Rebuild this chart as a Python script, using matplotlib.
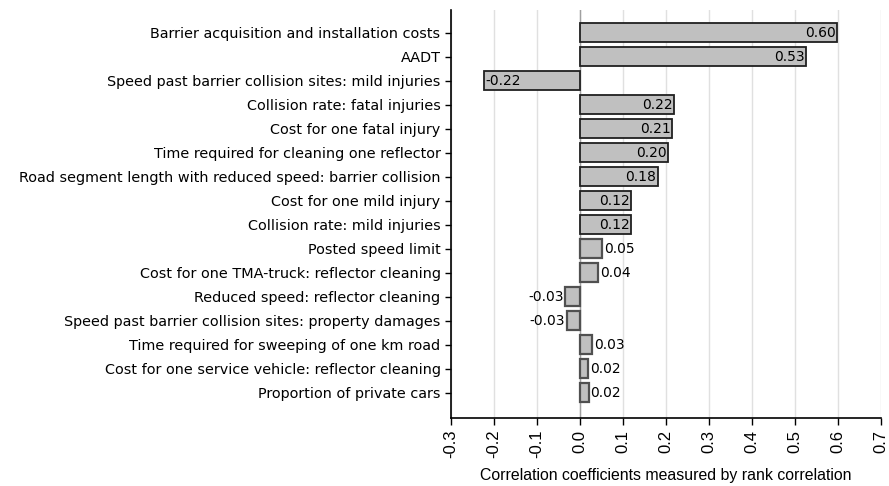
import matplotlib
matplotlib.use("Agg")
import matplotlib.pyplot as plt
import numpy as np

# parameters and their rank correlation coefficients
params = [
    "Barrier acquisition and installation costs",
    "AADT",
    "Speed past barrier collision sites: mild injuries",
    "Collision rate: fatal injuries",
    "Cost for one fatal injury",
    "Time required for cleaning one reflector",
    "Road segment length with reduced speed: barrier collision",
    "Cost for one mild injury",
    "Collision rate: mild injuries",
    "Posted speed limit",
    "Cost for one TMA-truck: reflector cleaning",
    "Reduced speed: reflector cleaning",
    "Speed past barrier collision sites: property damages",
    "Time required for sweeping of one km road",
    "Cost for one service vehicle: reflector cleaning",
    "Proportion of private cars",
]
corr = [0.598, 0.526, -0.224, 0.219, 0.215, 0.205, 0.181, 0.119, 0.119,
        0.052, 0.043, -0.034, -0.031, 0.029, 0.019, 0.020]
xticks = [-0.3, -0.2, -0.1, 0.0, 0.1, 0.2, 0.3, 0.4, 0.5, 0.6, 0.7]

fig = plt.figure(figsize=(8.89, 4.86), dpi=100)
ax = fig.add_axes([451 / 889, 1 - 418 / 486, 430 / 889, 408 / 486])

y = np.arange(len(params))
for xv in xticks:
    ax.axvline(xv, color="#e0e0e0", lw=1, zorder=0)
ax.axvline(0, color="#a0a0a0", lw=1, zorder=0)

bars = ax.barh(y, corr, height=0.8, color="#c0c0c0", edgecolor="#202020",
               linewidth=1.3, zorder=2)
for b, v in zip(bars, corr):
    big = abs(v) >= 0.1
    if not big:
        b.set_edgecolor("#505050")
        b.set_linewidth(1.6)
    if (v > 0) == big:
        ha, dx = "right", -0.004
    else:
        ha, dx = "left", 0.004
    ax.text(v + dx, b.get_y() + 0.42, f"{v:.2f}", ha=ha, va="center",
            fontsize=10, zorder=3)

ax.set_xlim(-0.3, 0.7)
ax.set_ylim(len(params) + 0.05, -0.95)
ax.set_yticks(y)
ax.set_yticklabels(params, fontsize=10.4)
ax.set_xticks(xticks)
ax.set_xticklabels([f"{t:.1f}" for t in xticks], rotation=90, fontsize=12,
                   family="Liberation Sans")
ax.set_xlabel("Correlation coefficients measured by rank correlation", fontsize=11.4,
              family="Liberation Sans", labelpad=7)
ax.spines["top"].set_visible(False)
ax.spines["right"].set_visible(False)
ax.spines["left"].set_linewidth(1.2)
ax.spines["bottom"].set_linewidth(1.2)
ax.tick_params(axis="y", direction="out", length=4, width=1)
ax.tick_params(axis="x", direction="out", length=5, width=1)

fig.savefig("out.png", dpi=100)
